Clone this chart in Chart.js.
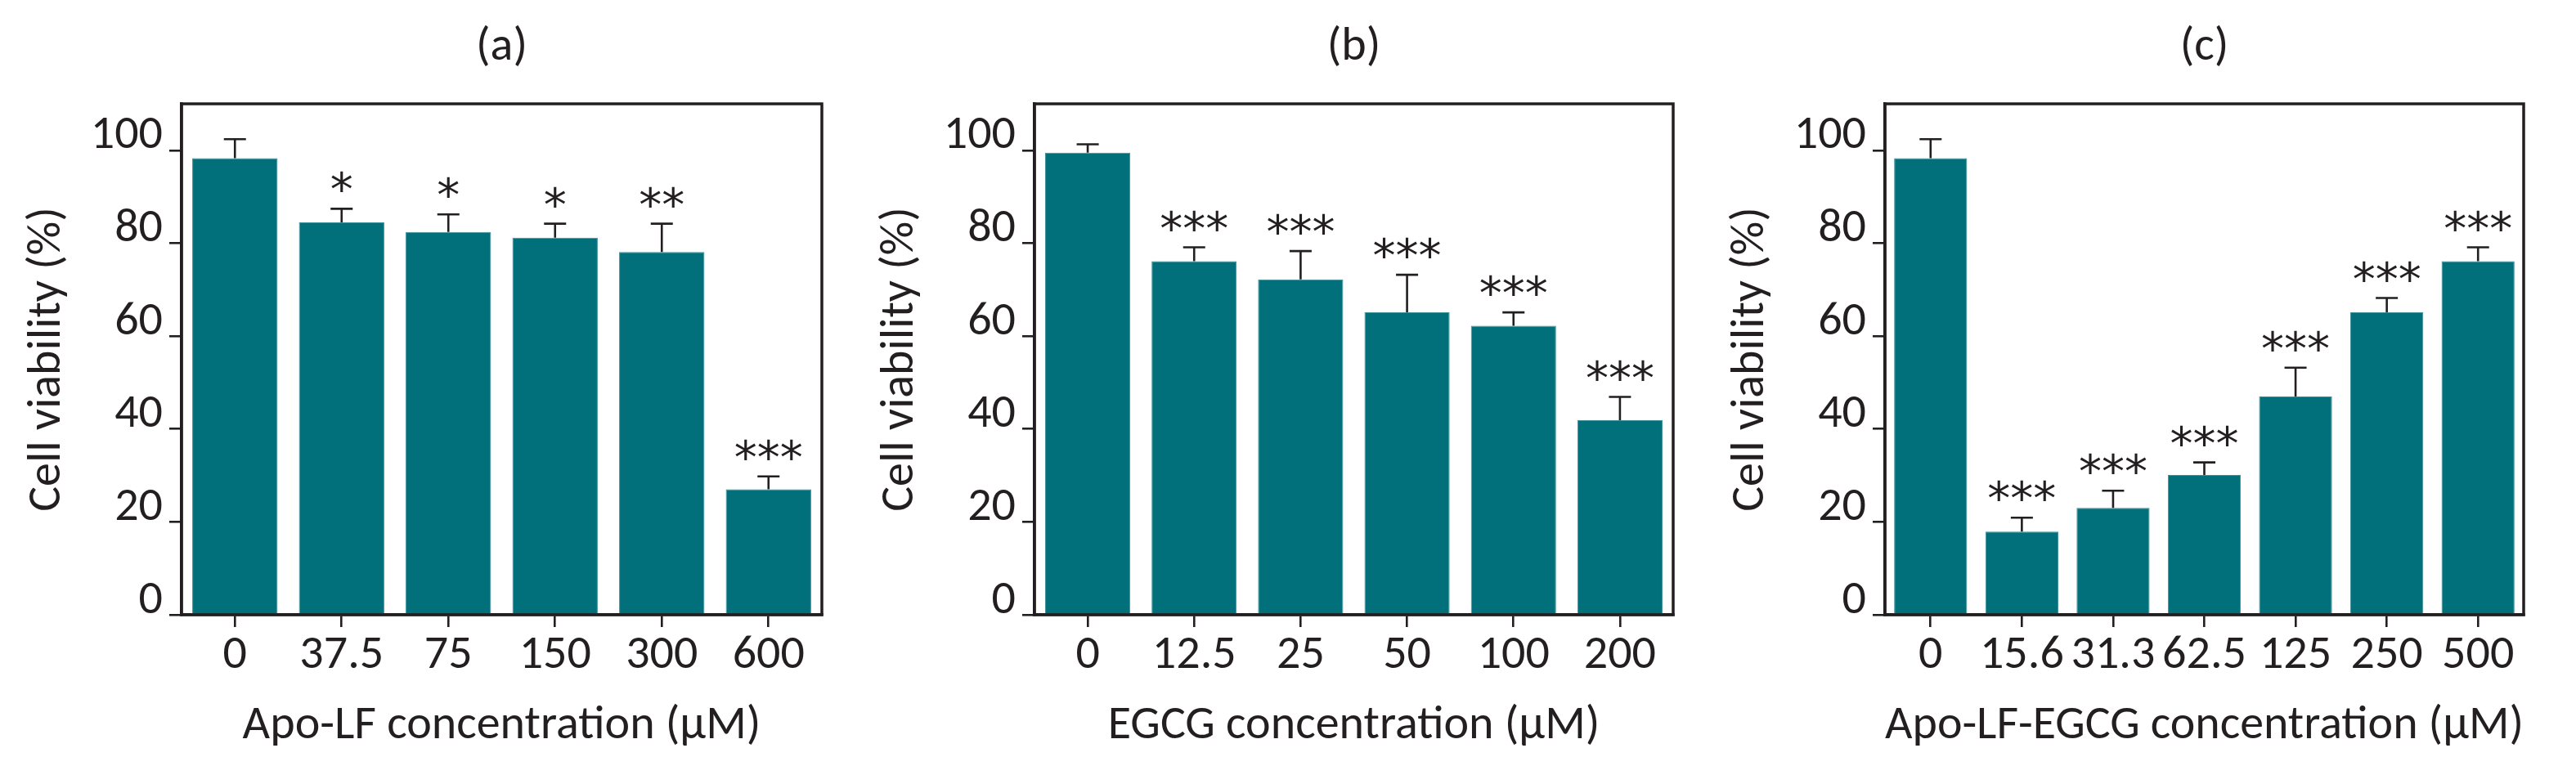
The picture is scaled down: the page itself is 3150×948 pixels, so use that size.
<!DOCTYPE html>
<html>
<head>
<meta charset="utf-8">
<script src="https://cdn.jsdelivr.net/npm/chart.js@4.4.0/dist/chart.umd.min.js"></script>
<style>
    html, body { margin: 0; padding: 0; background: #fff; }
    .panel { position: absolute; top: 0; width: 1050px; height: 948px; }
</style>
</head>
<body>
<div class="panel" style="left:0px"><canvas id="chart-a" width="1050" height="948"></canvas></div>
<div class="panel" style="left:1050px"><canvas id="chart-b" width="1050" height="948"></canvas></div>
<div class="panel" style="left:2100px"><canvas id="chart-c" width="1050" height="948"></canvas></div>
<script>
// panel (a) Apo-LF
const dosesA = ["0", "37.5", "75", "150", "300", "600"];
const viabilityA = [98.3, 84.5, 82.4, 81.2, 78.1, 27.0];
const errorA = [4.1, 2.9, 3.8, 3.0, 6.1, 2.8];
const starsA = ["", "*", "*", "*", "**", "***"];

// panel (b) EGCG
const dosesB = ["0", "12.5", "25", "50", "100", "200"];
const viabilityB = [99.5, 76.1, 72.2, 65.1, 62.2, 41.9];
const errorB = [1.8, 3.0, 6.1, 8.1, 2.9, 5.0];
const starsB = ["", "***", "***", "***", "***", "***"];

// panel (c) Apo-LF-EGCG
const dosesC = ["0", "15.6", "31.3", "62.5", "125", "250", "500"];
const viabilityC = [98.3, 17.9, 23.0, 30.1, 47.0, 65.1, 76.1];
const errorC = [4.1, 3.0, 3.7, 2.7, 6.2, 3.1, 3.0];
const starsC = ["", "***", "***", "***", "***", "***", "***"];

const yTicks = [0, 20, 40, 60, 80, 100];

const INK = "#231f20";
const BAR = "#02707b";
const FONT = "Carlito, Calibri, Lato, sans-serif";

Chart.defaults.font.family = FONT;
Chart.defaults.font.size = 58;
Chart.defaults.font.lineHeight = 1;
Chart.defaults.color = INK;

const frame = {
    id: "frame",
    afterDatasetsDraw(chart) {
        const { ctx, chartArea } = chart;
        ctx.save();
        ctx.strokeStyle = INK;
        ctx.lineWidth = 3.5;
        ctx.strokeRect(chartArea.left, chartArea.top, chartArea.right - chartArea.left, chartArea.bottom - chartArea.top);
        ctx.restore();
    }
};

// error bar (upper half only) plus the significance stars above it
const errorBars = {
    id: "errorBars",
    afterDatasetsDraw(chart, args, opts) {
        const { ctx } = chart;
        const yScale = chart.scales.y;
        const meta = chart.getDatasetMeta(0);
        const values = chart.data.datasets[0].data;
        ctx.save();
        ctx.strokeStyle = INK;
        ctx.fillStyle = INK;
        ctx.lineWidth = 2.6;
        meta.data.forEach((bar, i) => {
            const yBar = yScale.getPixelForValue(values[i]);
            const yTop = yScale.getPixelForValue(values[i] + opts.errors[i]);
            ctx.beginPath();
            ctx.moveTo(bar.x, yBar);
            ctx.lineTo(bar.x, yTop);
            ctx.moveTo(bar.x - 13.5, yTop);
            ctx.lineTo(bar.x + 13.5, yTop);
            ctx.stroke();
            if (opts.stars[i]) {
                ctx.font = "56px 'DejaVu Sans'";
                ctx.textAlign = "center";
                ctx.textBaseline = "alphabetic";
                ctx.fillText(opts.stars[i], bar.x, yTop - 4);
            }
        });
        ctx.restore();
    }
};

function makeChart(id, title, xTitle, doses, values, errors, stars, yWidth, padRight) {
    const ctx = document.getElementById(id).getContext("2d");
    return new Chart(ctx, {
        type: "bar",
        data: {
            labels: doses,
            datasets: [{
                data: values,
                backgroundColor: BAR,
                borderColor: "#3d9199",
                borderWidth: 1,
                barPercentage: 0.8,
                categoryPercentage: 1
            }]
        },
        options: {
            responsive: false,
            animation: false,
            devicePixelRatio: 1,
            layout: { padding: { left: 0, right: padRight, top: 0, bottom: 0 } },
            plugins: {
                legend: { display: false },
                tooltip: { enabled: false },
                title: {
                    display: true,
                    text: title,
                    fullSize: false,
                    font: { size: 58, weight: "normal", lineHeight: 1 },
                    padding: { top: 29, bottom: 40 }
                },
                errorBars: { errors: errors, stars: stars }
            },
            scales: {
                x: {
                    grid: { display: true, drawOnChartArea: false, offset: false, tickLength: 15, lineWidth: 2.6, color: INK },
                    border: { display: true, width: 3.5, color: INK },
                    ticks: { autoSkip: false, maxRotation: 0, minRotation: 0, padding: 6 },
                    title: { display: true, text: xTitle, padding: { top: 0, bottom: 31 } },
                    afterFit(scale) { scale.height = 196; }
                },
                y: {
                    min: 0,
                    max: 110,
                    grid: { display: true, drawOnChartArea: false, tickLength: 15, lineWidth: 2.6, color: INK },
                    border: { display: true, width: 3.5, color: INK },
                    ticks: { stepSize: 20, includeBounds: false, padding: 8, labelOffset: -17 },
                    afterBuildTicks(scale) { scale.ticks = yTicks.map(v => ({ value: v })); },
                    title: { display: true, text: "Cell viability (%)", padding: { top: yWidth - 193, bottom: 0 } },
                    afterFit(scale) { scale.width = yWidth; }
                }
            }
        },
        plugins: [frame, errorBars]
    });
}

makeChart("chart-a", "(a)", "Apo-LF concentration (\u00b5M)", dosesA, viabilityA, errorA, starsA, 222, 45);
makeChart("chart-b", "(b)", "EGCG concentration (\u00b5M)", dosesB, viabilityB, errorB, starsB, 215, 54);
makeChart("chart-c", "(c)", "Apo-LF-EGCG concentration (\u00b5M)", dosesC, viabilityC, errorC, starsC, 205, 64);
</script>
</body>
</html>
